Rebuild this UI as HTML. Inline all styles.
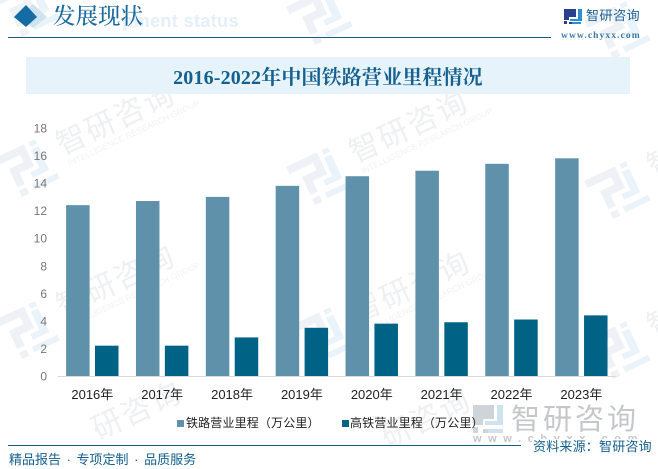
<!DOCTYPE html>
<html lang="zh">
<head>
<meta charset="utf-8">
<title>2016-2022年中国铁路营业里程情况</title>
<style>
html,body{margin:0;padding:0;background:#fff;overflow:hidden}
#page{position:relative;width:658px;height:469px;overflow:hidden;background:#fff;font-family:"Liberation Sans","Noto Sans CJK SC",sans-serif}
#page div{position:absolute;white-space:nowrap}
svg{position:absolute;left:0;top:0}
.serif{font-family:"Liberation Serif","Noto Serif CJK SC",serif}
</style>
</head>
<body>
<div id="page">
<svg id="wm" width="658" height="469"></svg>

<div style="left:65px;top:10px;font-size:18px;line-height:22px;font-weight:bold;color:#e3f0f8;letter-spacing:.4px;width:174px;text-align:right">pment status</div>
<svg width="658" height="469">
  <polygon points="33,4 47,17 33,28 20,17" fill="#cfe3ef"/>
  <polygon points="26,5 37,17 26,27 14,17" fill="#156ba3"/>
  <rect x="8" y="37" width="543" height="1" fill="#15608f"/>
  <rect x="8" y="445" width="183" height="1" fill="#15608f"/>
  <rect x="191" y="445" width="330" height="1" fill="#15608f"/>
</svg>
<div class="serif" style="left:53px;top:2px;font-size:22.5px;line-height:30px;color:#1a6a9e;font-weight:500">发展现状</div>

<svg width="658" height="469">
  <path d="M564 9h12v8h-7v3h-5zM569 22h6v2h-6zM564 21h3v3h-3z" fill="#2b3f8f"/>
  <path d="M578 9h4v12h-4zM570 19h8v2h-8zM572 24h9v-2h-9z" fill="#2b8fd6"/>
</svg>
<div style="left:586px;top:7px;font-size:13px;line-height:17px;letter-spacing:.55px;color:#1d5f93">智研咨询</div>
<div class="serif" style="left:561px;top:30px;font-size:9.5px;line-height:13px;font-weight:bold;letter-spacing:1.1px;color:#3a78a8">www.chyxx.com</div>

<div style="left:26px;top:57px;width:604px;height:37px;background:#e6f3fb"></div>
<div class="serif" style="left:26px;top:65px;width:604px;text-align:center;font-size:20px;line-height:26px;letter-spacing:.15px;font-weight:bold;color:#15608f">2016-2022年中国铁路营业里程情况</div>

<svg id="chart" width="658" height="469"></svg>

<svg width="658" height="469">
  <path d="M473 405h21v14h-11v6h-10zM483 429h9v4h-9zM473 427h5v6h-5z" fill="#cfd3da"/>
  <path d="M497 405h6v20h-6zM485 421h12v4h-12zM488 433h15v-4h-15z" fill="#cfe2f0"/>
</svg>
<div style="left:511px;top:402px;font-size:29px;line-height:36px;letter-spacing:3px;color:#c5c7ca">智研咨询</div>
<div style="left:473px;top:433px;font-size:11px;line-height:13px;font-weight:bold;letter-spacing:6.6px;color:#c5c7ca">www.chyxx.com</div>

<svg width="658" height="469">
  <rect x="177" y="420" width="7" height="7" fill="#5f92aa"/>
  <rect x="342" y="420" width="7" height="7" fill="#006285"/>
</svg>
<div style="left:186px;top:415px;font-size:12px;line-height:17px;letter-spacing:.15px;color:#222">铁路营业里程（万公里）</div>
<div style="left:350px;top:415px;font-size:12px;line-height:17px;letter-spacing:.15px;color:#222">高铁营业里程（万公里）</div>

<div style="left:9px;top:451px;font-size:13px;line-height:17px;word-spacing:2px;color:#15608f">精品报告 · 专项定制 · 品质服务</div>
<div style="left:532px;top:439px;font-size:13px;line-height:15px;letter-spacing:.2px;color:#15608f;background:#fff;padding-left:1px;padding-right:4px">资料来源：智研咨询</div>
</div>

<script>
var categories = ['2016年','2017年','2018年','2019年','2020年','2021年','2022年','2023年'];
var railwayValues = [12.4, 12.7, 13.0, 13.8, 14.5, 14.9, 15.4, 15.8];
var highSpeedValues = [2.2, 2.2, 2.8, 3.5, 3.8, 3.9, 4.1, 4.4];
var tickLabels = [0, 2, 4, 6, 8, 10, 12, 14, 16, 18];

var NS = 'http://www.w3.org/2000/svg';
var chart = document.getElementById('chart');
var plotLeft = 57.4, plotRight = 616.3, plotBottom = 376, plotTop = 128, axisMax = 18;
var bandWidth = (plotRight - plotLeft) / categories.length;
function yScale(v) { return plotBottom - (v / axisMax) * (plotBottom - plotTop); }
function xScale(i) { return plotLeft + bandWidth * i; }
function make(tag, attrs, parent) {
  var el = document.createElementNS(NS, tag);
  for (var k in attrs) el.setAttribute(k, attrs[k]);
  parent.appendChild(el);
  return el;
}
var fontStack = '"Liberation Sans","Noto Sans CJK SC",sans-serif';

tickLabels.forEach(function (t) {
  var tick = make('text', {x: 47, y: yScale(t) + 4.5, 'text-anchor': 'end', 'font-size': 12, fill: '#777', 'font-family': fontStack}, chart);
  
  
  tick.textContent = t;
});

categories.forEach(function (c, i) {
  var railBar = make('rect', {x: xScale(i) + 8.7, y: yScale(railwayValues[i]), width: 23.5, height: plotBottom - yScale(railwayValues[i]), fill: '#5f92aa'}, chart);
  
  
  var hsrBar = make('rect', {x: xScale(i) + 37.6, y: yScale(highSpeedValues[i]), width: 23.5, height: plotBottom - yScale(highSpeedValues[i]), fill: '#006285'}, chart);
  
  
  var label = make('text', {x: xScale(i) + bandWidth / 2, y: 399, 'text-anchor': 'middle', 'font-size': 13, fill: '#222', 'font-family': fontStack}, chart);
  
  
  label.textContent = c;
});

var axisLine = make('rect', {x: plotLeft, y: plotBottom, width: plotRight - plotLeft, height: 1, fill: '#d9d9d9'}, chart);



var wm = document.getElementById('wm');
function tile(x, y, withText) {
  var g = make('g', {transform: 'translate(' + x + ',' + y + ') rotate(-25)'}, wm);
  
  
  make('path', {d: 'M-28 -20H6V4H-10V16H-18V-4H-2V-12H-28ZM-18 20H-10V27H-18Z', fill: '#eef1f5'}, g);
  make('path', {d: 'M10 -12H18V14H0V8H10ZM11 -20H18V-15H11ZM-4 20H24V26H-4Z', fill: '#e9f3f9'}, g);
  if (withText) {
    var t = make('text', {x: 36, y: 6, 'font-size': 30, 'letter-spacing': 2, fill: '#eff0f2', 'font-family': fontStack}, g);
    t.textContent = '智研咨询';
    var e = make('text', {x: 38, y: 19, 'font-size': 8.5, fill: '#f1f2f4', 'font-family': fontStack}, g);
    e.textContent = 'INTELLIGENCE RESEARCH GROUP';
  }
}
tile(27, 5, false);
tile(320, 13, false);
tile(618, 27, false);
tile(27, 165, true);
tile(320, 173, true);
tile(618, 187, true);
tile(27, 327, true);
tile(322, 333, true);
tile(618, 347, true);
[[98, 440], [387, 448]].forEach(function (p) {
  var t = make('text', {x: p[0], y: p[1], 'font-size': 30, 'letter-spacing': 2, fill: '#eff0f2', 'font-family': fontStack, transform: 'rotate(-25 ' + p[0] + ' ' + p[1] + ')'}, wm);
  
  
  t.textContent = '研咨询';
});
</script>
</body>
</html>
